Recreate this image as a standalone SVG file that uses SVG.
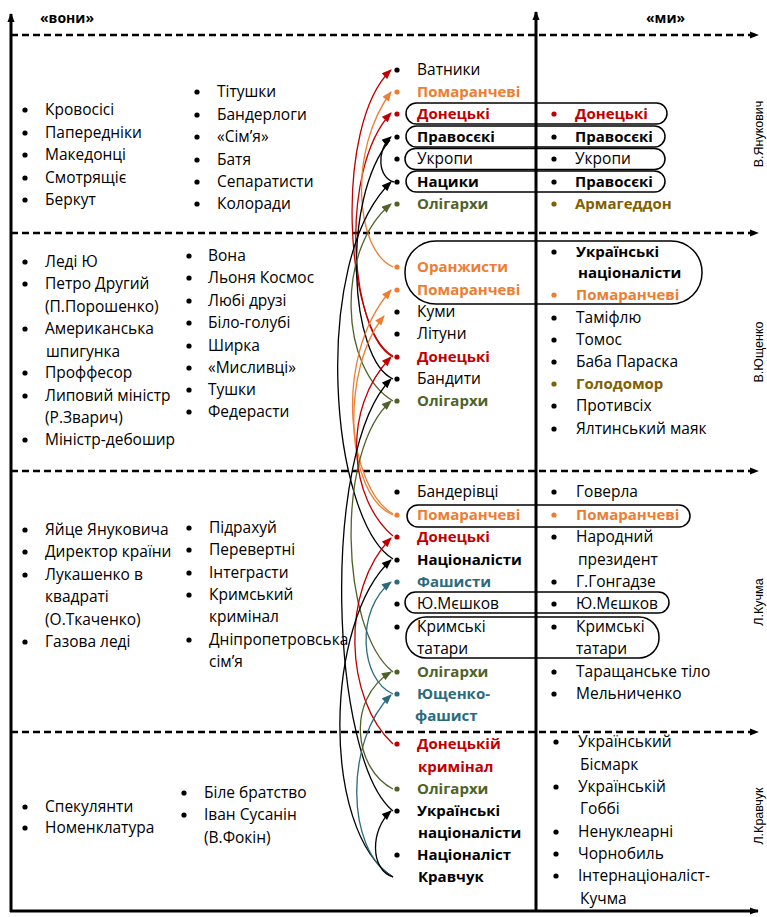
<svg xmlns="http://www.w3.org/2000/svg" width="767" height="917" viewBox="0 0 767 917">
<style>
.t{font-family:"Open Sans","Noto Sans",sans-serif;font-size:15.5px;fill:#000}
.b{font-weight:700;font-size:15px}
.red{fill:#c00000}.org{fill:#ed7d31}.olv{fill:#4f6228}.gld{fill:#806000}.tea{fill:#2b6a7c}
.side{font-family:"Liberation Sans",Arial,sans-serif;font-size:12.5px;fill:#000}
.ax{stroke:#000;stroke-width:3;fill:none}
.dash{stroke:#000;stroke-width:2.6;stroke-dasharray:7 4;fill:none}
.pill{fill:none;stroke:#000;stroke-width:1.5}
.c{fill:none;stroke-width:1.3}
.ck{stroke:#000}.cr{stroke:#c00000}.co{stroke:#ed7d31}.cg{stroke:#4f6228}.ct{stroke:#2b6a7c}
</style>
<defs>
<marker id="ak" viewBox="0 0 10 8" refX="9" refY="4" markerWidth="11" markerHeight="8" markerUnits="userSpaceOnUse" orient="auto"><path d="M0 0L10 4L0 8z" fill="#000"/></marker>
<marker id="ar" viewBox="0 0 10 8" refX="9" refY="4" markerWidth="11" markerHeight="8" markerUnits="userSpaceOnUse" orient="auto"><path d="M0 0L10 4L0 8z" fill="#c00000"/></marker>
<marker id="ao" viewBox="0 0 10 8" refX="9" refY="4" markerWidth="11" markerHeight="8" markerUnits="userSpaceOnUse" orient="auto"><path d="M0 0L10 4L0 8z" fill="#ed7d31"/></marker>
<marker id="ag" viewBox="0 0 10 8" refX="9" refY="4" markerWidth="11" markerHeight="8" markerUnits="userSpaceOnUse" orient="auto"><path d="M0 0L10 4L0 8z" fill="#4f6228"/></marker>
<marker id="at" viewBox="0 0 10 8" refX="9" refY="4" markerWidth="11" markerHeight="8" markerUnits="userSpaceOnUse" orient="auto"><path d="M0 0L10 4L0 8z" fill="#2b6a7c"/></marker>
<marker id="ax" viewBox="0 0 10 8" refX="9" refY="4" markerWidth="9" markerHeight="8" markerUnits="userSpaceOnUse" orient="auto"><path d="M0 0L10 4L0 8z" fill="#000"/></marker>
</defs>

<g id="axes">
<line class="ax" x1="11" y1="912" x2="11" y2="14" marker-end="url(#ax)"/>
<line class="ax" x1="536" y1="912" x2="536" y2="12" marker-end="url(#ax)"/>
<line class="ax" x1="10" y1="911" x2="758" y2="911" marker-end="url(#ax)"/>
<line class="dash" x1="11" y1="35" x2="758" y2="35" marker-end="url(#ax)"/>
<line class="dash" x1="11" y1="233" x2="758" y2="233" marker-end="url(#ax)"/>
<line class="dash" x1="11" y1="471" x2="758" y2="471" marker-end="url(#ax)"/>
<line class="dash" x1="11" y1="732" x2="758" y2="732" marker-end="url(#ax)"/>
<text class="t b" x="40" y="23" style="font-size:14px">«вони»</text>
<text class="t b" x="646" y="23" style="font-size:14px">«ми»</text>
<text class="side" transform="translate(763 134) rotate(-90)" text-anchor="middle">В.Янукович</text>
<text class="side" transform="translate(763 352) rotate(-90)" text-anchor="middle">В.Ющенко</text>
<text class="side" transform="translate(763 602) rotate(-90)" text-anchor="middle">Л.Кучма</text>
<text class="side" transform="translate(763 816) rotate(-90)" text-anchor="middle">Л.Кравчук</text>
</g>

<g id="pills">
<rect class="pill" x="406" y="103" width="261" height="21" rx="10.5"/>
<rect class="pill" x="406" y="126" width="259" height="21" rx="10.5"/>
<rect class="pill" x="405" y="148.5" width="260" height="21" rx="10.5"/>
<rect class="pill" x="406" y="171" width="259" height="21" rx="10.5"/>
<rect class="pill" x="405" y="241" width="297" height="63" rx="31"/>
<rect class="pill" x="407" y="505" width="283" height="22" rx="11"/>
<rect class="pill" x="405" y="592" width="264" height="21" rx="10.5"/>
<rect class="pill" x="406" y="617" width="253" height="41" rx="20"/>
</g>

<g id="connectors">
<path class="c cr" d="M393 356 C345 330 333 125 391 70" marker-end="url(#ar)"/>
<path class="c cr" d="M393 357 C350 335 338 170 391 113" marker-end="url(#ar)"/>
<path class="c co" d="M393 267 C355 250 348 150 391 92" marker-end="url(#ao)"/>
<path class="c ck" d="M394 182 C378 178 376 150 391 137" marker-end="url(#ak)"/>
<path class="c ck" d="M393 559 C330 520 310 260 391 182" marker-end="url(#ak)"/>
<path class="c ck" d="M393 379 C350 360 340 200 390 140"/>
<path class="c cg" d="M393 401 C340 370 335 250 391 204" marker-end="url(#ag)"/>
<path class="c co" d="M393 514 C350 490 330 360 391 290" marker-end="url(#ao)"/>
<path class="c co" d="M393 515 C345 495 340 370 384 316" marker-end="url(#ao)"/>
<path class="c cr" d="M393 536 C350 500 340 410 391 357" marker-end="url(#ar)"/>
<path class="c ck" d="M393 811 C330 760 320 450 391 379" marker-end="url(#ak)"/>
<path class="c cg" d="M393 672 C340 630 335 450 391 401" marker-end="url(#ag)"/>
<path class="c cr" d="M393 744 C345 700 340 590 391 538" marker-end="url(#ar)"/>
<path class="c ck" d="M393 877 C320 830 325 620 391 560" marker-end="url(#ak)"/>
<path class="c ct" d="M393 694 C360 680 355 610 391 582" marker-end="url(#at)"/>
<path class="c ct" d="M393 877 C345 850 345 740 391 695" marker-end="url(#at)"/>
<path class="c cg" d="M393 789 C355 770 345 700 391 672" marker-end="url(#ag)"/>
<path class="c ck" d="M393 877 C370 870 370 830 391 811" marker-end="url(#ak)"/>
</g>

<g id="band1-left">
<circle cx="25" cy="110" r="2.6"/><text class="t" x="45" y="115">Кровосісі</text>
<circle cx="25" cy="133" r="2.6"/><text class="t" x="45" y="138">Папередніки</text>
<circle cx="25" cy="155" r="2.6"/><text class="t" x="45" y="160">Македонці</text>
<circle cx="25" cy="178" r="2.6"/><text class="t" x="45" y="183">Смотрящіє</text>
<circle cx="25" cy="200" r="2.6"/><text class="t" x="45" y="205">Беркут</text>
<circle cx="197" cy="92" r="2.6"/><text class="t" x="217" y="97">Тітушки</text>
<circle cx="197" cy="115" r="2.6"/><text class="t" x="217" y="120">Бандерлоги</text>
<circle cx="197" cy="137" r="2.6"/><text class="t" x="217" y="142">«Сім’я»</text>
<circle cx="197" cy="160" r="2.6"/><text class="t" x="217" y="165">Батя</text>
<circle cx="197" cy="182" r="2.6"/><text class="t" x="217" y="187">Сепаратисти</text>
<circle cx="197" cy="204" r="2.6"/><text class="t" x="217" y="209">Колоради</text>
</g>

<g id="band1-mid">
<circle cx="397" cy="70" r="2.6"/><text class="t" x="417" y="75">Ватники</text>
<circle cx="397" cy="92" r="2.6" fill="#ed7d31"/><text class="t b org" x="417" y="97">Помаранчеві</text>
<circle cx="397" cy="114" r="2.6" fill="#c00000"/><text class="t b red" x="417" y="119">Донецькі</text>
<circle cx="397" cy="137" r="2.6"/><text class="t b" x="417" y="142">Правосєкі</text>
<circle cx="397" cy="159" r="2.6"/><text class="t" x="417" y="164">Укропи</text>
<circle cx="397" cy="182" r="2.6"/><text class="t b" x="417" y="187">Нацики</text>
<circle cx="397" cy="204" r="2.6" fill="#4f6228"/><text class="t b olv" x="417" y="209">Олігархи</text>
</g>

<g id="band1-right">
<circle cx="554" cy="114" r="2.6" fill="#c00000"/><text class="t b red" x="575" y="119">Донецькі</text>
<circle cx="554" cy="137" r="2.6"/><text class="t b" x="575" y="142">Правосєкі</text>
<circle cx="554" cy="159" r="2.6"/><text class="t" x="575" y="164">Укропи</text>
<circle cx="554" cy="182" r="2.6"/><text class="t b" x="575" y="187">Правосєкі</text>
<circle cx="554" cy="204" r="2.6" fill="#806000"/><text class="t b gld" x="575" y="209">Армагеддон</text>
</g>

<g id="band2-left">
<circle cx="25" cy="262" r="2.6"/><text class="t" x="45" y="267">Леді Ю</text>
<circle cx="25" cy="284" r="2.6"/><text class="t" x="45" y="289">Петро Другий</text>
<text class="t" x="45" y="312">(П.Порошенко)</text>
<circle cx="25" cy="329" r="2.6"/><text class="t" x="45" y="334">Американська</text>
<text class="t" x="46" y="357">шпигунка</text>
<circle cx="25" cy="373" r="2.6"/><text class="t" x="45" y="378">Проффесор</text>
<circle cx="25" cy="396" r="2.6"/><text class="t" x="45" y="401">Липовий міністр</text>
<text class="t" x="45" y="423">(Р.Зварич)</text>
<circle cx="25" cy="440" r="2.6"/><text class="t" x="45" y="445">Міністр-дебошир</text>
<circle cx="189" cy="256" r="2.6"/><text class="t" x="208" y="261">Вона</text>
<circle cx="189" cy="278" r="2.6"/><text class="t" x="208" y="283">Льоня Космос</text>
<circle cx="189" cy="301" r="2.6"/><text class="t" x="208" y="306">Любі друзі</text>
<circle cx="189" cy="323" r="2.6"/><text class="t" x="208" y="328">Біло-голубі</text>
<circle cx="189" cy="346" r="2.6"/><text class="t" x="208" y="351">Ширка</text>
<circle cx="189" cy="368" r="2.6"/><text class="t" x="208" y="373">«Мисливці»</text>
<circle cx="189" cy="390" r="2.6"/><text class="t" x="208" y="395">Тушки</text>
<circle cx="189" cy="412" r="2.6"/><text class="t" x="208" y="417">Федерасти</text>
</g>

<g id="band2-mid">
<circle cx="397" cy="267" r="2.6" fill="#ed7d31"/><text class="t b org" x="417" y="272">Оранжисти</text>
<circle cx="397" cy="290" r="2.6" fill="#ed7d31"/><text class="t b org" x="417" y="295">Помаранчеві</text>
<circle cx="397" cy="312" r="2.6"/><text class="t" x="417" y="317">Куми</text>
<circle cx="397" cy="334" r="2.6"/><text class="t" x="417" y="339">Літуни</text>
<circle cx="397" cy="357" r="2.6" fill="#c00000"/><text class="t b red" x="417" y="362">Донецькі</text>
<circle cx="397" cy="379" r="2.6"/><text class="t" x="417" y="384">Бандити</text>
<circle cx="397" cy="401" r="2.6" fill="#4f6228"/><text class="t b olv" x="417" y="406">Олігархи</text>
</g>

<g id="band2-right">
<circle cx="554" cy="252" r="2.6"/><text class="t b" x="576" y="257">Українські</text>
<text class="t b" x="578" y="278">націоналісти</text>
<circle cx="554" cy="295" r="2.6" fill="#ed7d31"/><text class="t b org" x="576" y="300">Помаранчеві</text>
<circle cx="554" cy="318" r="2.6"/><text class="t" x="576" y="323">Таміфлю</text>
<circle cx="554" cy="340" r="2.6"/><text class="t" x="576" y="345">Томос</text>
<circle cx="554" cy="362" r="2.6"/><text class="t" x="576" y="367">Баба Параска</text>
<circle cx="554" cy="384" r="2.6" fill="#806000"/><text class="t b gld" x="576" y="389">Голодомор</text>
<circle cx="554" cy="406" r="2.6"/><text class="t" x="576" y="411">Противсіх</text>
<circle cx="554" cy="429" r="2.6"/><text class="t" x="576" y="434">Ялтинський маяк</text>
</g>

<g id="band3-left">
<circle cx="25" cy="530" r="2.6"/><text class="t" x="45" y="535">Яйце Януковича</text>
<circle cx="25" cy="552" r="2.6"/><text class="t" x="45" y="557">Директор країни</text>
<circle cx="25" cy="575" r="2.6"/><text class="t" x="45" y="580">Лукашенко в</text>
<text class="t" x="45" y="602">квадраті</text>
<text class="t" x="45" y="625">(О.Ткаченко)</text>
<circle cx="25" cy="642" r="2.6"/><text class="t" x="45" y="647">Газова леді</text>
<circle cx="189" cy="528" r="2.6"/><text class="t" x="209" y="533">Підрахуй</text>
<circle cx="189" cy="550" r="2.6"/><text class="t" x="209" y="555">Перевертні</text>
<circle cx="189" cy="573" r="2.6"/><text class="t" x="209" y="578">Інтеграсти</text>
<circle cx="189" cy="595" r="2.6"/><text class="t" x="209" y="600">Кримський</text>
<text class="t" x="209" y="622">кримінал</text>
<circle cx="189" cy="640" r="2.6"/><text class="t" x="209" y="645">Дніпропетровська</text>
<text class="t" x="209" y="667">сім’я</text>
</g>

<g id="band3-mid">
<circle cx="397" cy="492" r="2.6"/><text class="t" x="417" y="497">Бандерівці</text>
<circle cx="397" cy="515" r="2.6" fill="#ed7d31"/><text class="t b org" x="417" y="520">Помаранчеві</text>
<circle cx="397" cy="537" r="2.6" fill="#c00000"/><text class="t b red" x="417" y="542">Донецькі</text>
<circle cx="397" cy="560" r="2.6"/><text class="t b" x="417" y="565">Націоналісти</text>
<circle cx="397" cy="582" r="2.6" fill="#2b6a7c"/><text class="t b tea" x="417" y="587">Фашисти</text>
<circle cx="397" cy="604" r="2.6"/><text class="t" x="417" y="609">Ю.Мєшков</text>
<circle cx="397" cy="627" r="2.6"/><text class="t" x="417" y="632">Кримські</text>
<text class="t" x="417" y="654">татари</text>
<circle cx="397" cy="672" r="2.6" fill="#4f6228"/><text class="t b olv" x="417" y="677">Олігархи</text>
<circle cx="397" cy="694" r="2.6" fill="#2b6a7c"/><text class="t b tea" x="417" y="699">Ющенко-</text>
<text class="t b tea" x="415" y="721">фашист</text>
</g>

<g id="band3-right">
<circle cx="554" cy="492" r="2.6"/><text class="t" x="576" y="497">Говерла</text>
<circle cx="554" cy="515" r="2.6" fill="#ed7d31"/><text class="t b org" x="576" y="520">Помаранчеві</text>
<circle cx="554" cy="537" r="2.6"/><text class="t" x="576" y="542">Народний</text>
<text class="t" x="578" y="565">президент</text>
<circle cx="554" cy="582" r="2.6"/><text class="t" x="576" y="587">Г.Гонгадзе</text>
<circle cx="554" cy="604" r="2.6"/><text class="t" x="576" y="609">Ю.Мєшков</text>
<circle cx="554" cy="627" r="2.6"/><text class="t" x="576" y="632">Кримські</text>
<text class="t" x="576" y="654">татари</text>
<circle cx="554" cy="672" r="2.6"/><text class="t" x="576" y="677">Таращанське тіло</text>
<circle cx="554" cy="694" r="2.6"/><text class="t" x="576" y="699">Мельниченко</text>
</g>

<g id="band4-left">
<circle cx="25" cy="807" r="2.6"/><text class="t" x="45" y="812">Спекулянти</text>
<circle cx="25" cy="828" r="2.6"/><text class="t" x="45" y="833">Номенклатура</text>
<circle cx="184" cy="793" r="2.6"/><text class="t" x="204" y="798">Біле братство</text>
<circle cx="184" cy="815" r="2.6"/><text class="t" x="204" y="820">Іван Сусанін</text>
<text class="t" x="204" y="843">(В.Фокін)</text>
</g>

<g id="band4-mid">
<circle cx="397" cy="744" r="2.6" fill="#c00000"/><text class="t b red" x="417" y="749">Донецькій</text>
<text class="t b red" x="418" y="772">кримінал</text>
<circle cx="397" cy="789" r="2.6" fill="#4f6228"/><text class="t b olv" x="417" y="794">Олігархи</text>
<circle cx="397" cy="811" r="2.6"/><text class="t b" x="417" y="816">Українські</text>
<text class="t b" x="418" y="838">націоналісти</text>
<circle cx="397" cy="855" r="2.6"/><text class="t b" x="417" y="860">Націоналіст</text>
<text class="t b" x="418" y="882">Кравчук</text>
</g>

<g id="band4-right">
<circle cx="556" cy="742" r="2.6"/><text class="t" x="578" y="747">Український</text>
<text class="t" x="580" y="770">Бісмарк</text>
<circle cx="556" cy="787" r="2.6"/><text class="t" x="578" y="792">Українській</text>
<text class="t" x="580" y="814">Гоббі</text>
<circle cx="556" cy="832" r="2.6"/><text class="t" x="578" y="837">Ненуклеарні</text>
<circle cx="556" cy="854" r="2.6"/><text class="t" x="578" y="859">Чорнобиль</text>
<circle cx="556" cy="876" r="2.6"/><text class="t" x="578" y="881">Інтернаціоналіст-</text>
<text class="t" x="580" y="904">Кучма</text>
</g>
</svg>
